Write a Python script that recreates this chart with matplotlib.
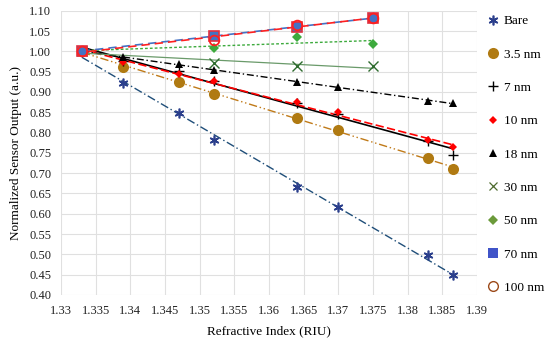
import numpy as np
import matplotlib
matplotlib.use("Agg")
import matplotlib.pyplot as plt
from matplotlib.ticker import FuncFormatter, MultipleLocator

plt.rcParams['font.family'] = ['Liberation Serif', 'DejaVu Serif']

# Refractive index values
ri_full = [1.333, 1.339, 1.347, 1.352, 1.364, 1.370, 1.383, 1.3865]
ri_short = [1.333, 1.352, 1.364, 1.375]

bare = [1.000, 0.921, 0.847, 0.781, 0.666, 0.617, 0.499, 0.448]
nm3_5 = [1.000, 0.962, 0.925, 0.894, 0.835, 0.807, 0.738, 0.709]
nm7 = [1.000, 0.976, 0.952, 0.928, 0.873, 0.846, 0.778, 0.745]
nm10 = [1.000, 0.974, 0.944, 0.926, 0.874, 0.850, 0.781, 0.764]
nm18 = [1.000, 0.985, 0.969, 0.954, 0.924, 0.913, 0.878, 0.872]
nm30 = [1.000, 0.972, 0.964, 0.964]
nm50 = [1.000, 1.008, 1.036, 1.017]
nm70 = [1.000, 1.038, 1.061, 1.081]
nm100 = [1.000, 1.028, 1.066, 1.081]

labels = ["Bare", "3.5 nm", "7 nm", "10 nm", "18 nm", "30 nm", "50 nm", "70 nm", "100 nm"]

fig = plt.figure(figsize=(5.5, 3.45), dpi=100)
ax = fig.add_axes([0.111, 0.145, 0.756, 0.824])

series = [
    (ri_full, bare, dict(marker=(6, 2, 0), color='#2B3F8C', ms=7, mew=1.2, mfc='none'),
     dict(color='#1F4E79', ls=(0, (6, 2, 1, 2)), lw=1.0)),
    (ri_full, nm3_5, dict(marker='o', color='#B07A12', ms=8, mew=0),
     dict(color='#C07A18', ls=(0, (6, 2, 1, 2, 1, 2)), lw=1.0)),
    (ri_full, nm7, dict(marker='+', color='black', ms=7, mew=1.0),
     dict(color='black', ls='-', lw=1.2)),
    (ri_full, nm10, dict(marker='D', color='#FF0000', ms=4.5, mew=0),
     dict(color='#FF0000', ls=(0, (5, 2)), lw=1.2)),
    (ri_full, nm18, dict(marker='^', color='black', ms=6, mew=0),
     dict(color='black', ls=(0, (5, 2, 1, 2)), lw=1.0)),
    (ri_short, nm30, dict(marker='x', color='#2E6B2E', ms=7, mew=1.0),
     dict(color='#6A9A6A', ls='-', lw=0.9)),
    (ri_short, nm50, dict(marker='D', color='#3DAA3D', ms=5.5, mew=0),
     dict(color='#3DAA3D', ls=(0, (2, 1.5)), lw=1.0)),
    (ri_short, nm70, dict(marker='s', color='#4472C4', ms=7, mew=1.2, mec='#E03040'),
     dict(color='#4472C4', ls=(0, (5, 3)), lw=1.2)),
    (ri_short, nm100, dict(marker='o', color='#FF2020', ms=7, mew=1.3, mfc='none'),
     dict(color='#FF2020', ls=(4, (5, 3)), lw=1.2)),
]

for x, y, mk, tk in series:
    xa = np.array(x)
    coef = np.polyfit(xa, np.array(y), 1)
    xs = np.array([xa.min(), xa.max()])
    ax.plot(xs, np.polyval(coef, xs), zorder=2, **tk)
for x, y, mk, tk in series:
    ax.plot(x, y, ls='none', zorder=3, **mk)

legend_styles = [
    dict(marker=(6, 2, 0), color='#2B3F8C', ms=7, mew=1.2, mfc='none'),
    dict(marker='o', color='#B07A12', ms=8, mew=0),
    dict(marker='+', color='black', ms=7, mew=1.0),
    dict(marker='D', color='#FF0000', ms=4.5, mew=0),
    dict(marker='^', color='black', ms=6, mew=0),
    dict(marker='x', color='#4E6B2E', ms=6, mew=0.9),
    dict(marker='D', color='#6B9A3A', ms=5, mew=0),
    dict(marker='s', color='#4054C8', ms=7, mew=0),
    dict(marker='o', color='#9C4A1A', ms=7, mew=1.0, mfc='none'),
]
handles = [plt.Line2D([], [], ls='none', **s) for s in legend_styles]
fig.legend(handles, labels, loc='upper left', bbox_to_anchor=(0.875, 0.972),
           frameon=False, fontsize=9.5, labelspacing=1.6, handlelength=1.0,
           handletextpad=0.3, borderaxespad=0)

ax.set_xlim(1.33, 1.39)
ax.set_ylim(0.40, 1.10)
ax.xaxis.set_major_locator(MultipleLocator(0.005))
ax.yaxis.set_major_locator(MultipleLocator(0.05))
ax.xaxis.set_major_formatter(FuncFormatter(lambda v, p: f"{v:.3f}".rstrip('0')))
ax.yaxis.set_major_formatter(FuncFormatter(lambda v, p: f"{v:.2f}"))
ax.grid(True, color='#E0E0E0', lw=0.8)
ax.set_axisbelow(True)
for s in ax.spines.values():
    s.set_visible(False)
ax.tick_params(length=0, labelsize=9, colors='#222222', pad=7)
ax.set_xlabel("Refractive Index (RIU)", fontsize=9.5, labelpad=6)
ax.set_ylabel("Normalized Sensor Output (a.u.)", fontsize=9.5, labelpad=5)

fig.savefig("out.png", dpi=100)
